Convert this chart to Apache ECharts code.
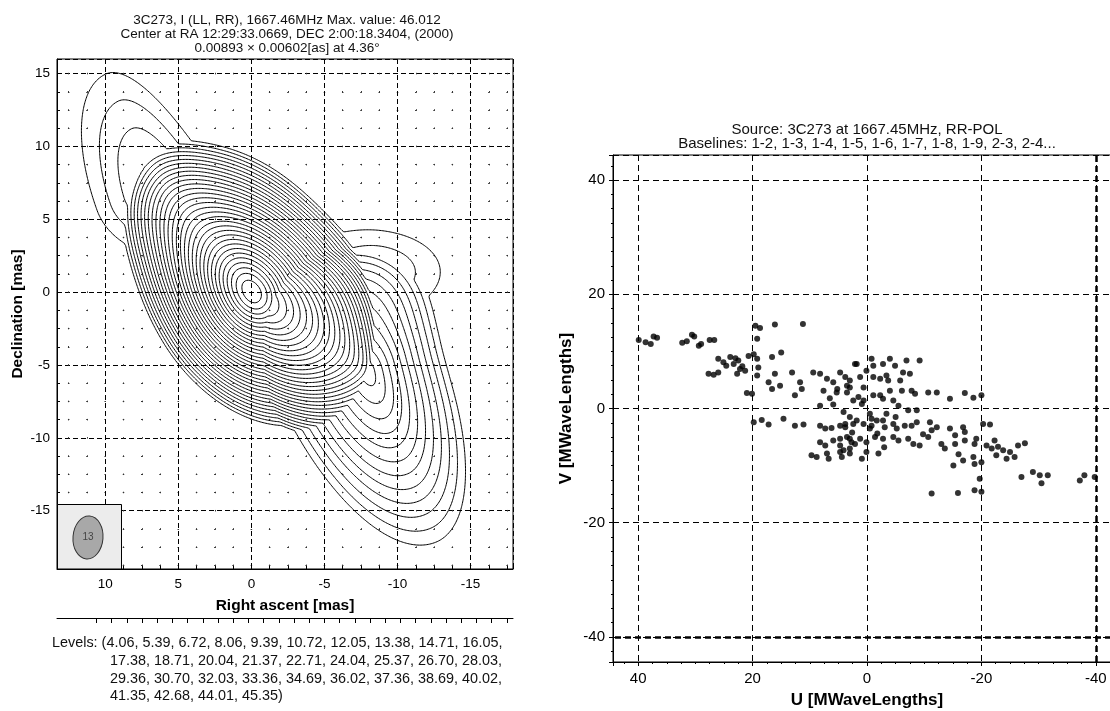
<!DOCTYPE html>
<html><head><meta charset="utf-8">
<script src="https://cdn.jsdelivr.net/npm/echarts@6/dist/echarts.min.js"></script>
<style>html,body{margin:0;padding:0;background:#fff}#c{width:1110px;height:711px}</style>
</head><body><div id="c"></div>
<script>
const FONT = 'Liberation Sans, Arial, sans-serif';

// ---------- Left panel: CLEAN map contours ----------
const levels = [4.06, 5.39, 6.72, 8.06, 9.39, 10.72, 12.05, 13.38, 14.71, 16.05,
  17.38, 18.71, 20.04, 21.37, 22.71, 24.04, 25.37, 26.70, 28.03,
  29.36, 30.70, 32.03, 33.36, 34.69, 36.02, 37.36, 38.69, 40.02,
  41.35, 42.68, 44.01, 45.35];
const levelLineBreaks = [10, 9, 9, 4];
const raRange = [-17.9, 13.3];
const decRange = [-19, 16];
// brightness components estimated from the contour shapes (mas, flux units)
// shape: 0 = soft cone, 1 = gaussian; scales: forward / backward along the axis, minor (+ / - side)
const compShape    = [0,     0,    1,    1,     1];
const compRA       = [0.0,  -8.0,  6.5,  -9.0,  0.5];
const compDec      = [0.0,  -5.5,  7.5,   1.5,  0.0];
const compAmp      = [42.5,  17,   6.5,   5.5,  3.5];
const compFwd      = [10,    8,    7.5,   4.0,  9];
const compBack     = [9,     14,   3,     4.5,  12];
const compMinorPos = [6.6,   5.7,  2.5,   2.8,  5.5];
const compMinorNeg = [6.4,   6.3,  3.5,   2.8,  5.5];
const compAngle    = [58,    68,   65,    0,    55];
const compSoft     = [0.15,  0.1,  0,     0,    0];

const leftTitle = ['3C273, I (LL, RR), 1667.46MHz Max. value: 46.012',
  'Center at RA 12:29:33.0669, DEC 2:00:18.3404, (2000)',
  '0.00893 \u00d7 0.00602[as] at 4.36\u00b0'];
const beamLabel = '13';
const rulerRange = [0, 30];
const rulerTicks = [2.6, 3.6, 4.6, 5.6, 6.6, 7.6, 8.6, 9.6, 10.6, 11.6, 12.6, 13.6, 14.6, 15.6, 16.6,
  17.6, 18.6, 19.6, 20.6, 21.6, 22.6, 23.6, 24.6, 25.6, 26.6, 27.6, 28.6, 29.6];

// ---------- Right panel: UV coverage ----------
const uValues = [39.9,38.7,37.8,37.3,36.7, 32.3,31.5,30.6,30.2,29.4,29.0,27.5,26.7,
 19.5,18.7,19.2,16.1,11.2,
 26.0,25.1,23.9,23.3,22.5,22.2,21.3,22.7,27.7,26.8,26.0,20.7,19.8,19.2,16.6,15.0,19.0,19.2,17.2,16.1,15.2,16.6,21.0,20.1,13.1,11.7,11.4,12.6,9.4,8.2,7.0,5.9,4.7,7.6,5.3,3.0,2.4,1.8,8.2,5.9,
 19.8,18.4,17.2,14.6,12.6,11.1,8.2,7.3,6.2,4.7,8.2,7.3,5.9,4.7,3.0,2.1,9.7,8.8,7.0,6.7,4.7,4.4,3.0,3.0,3.8,
 3.8,2.1,3.0,1.2,0.6,3.5,3.5,1.5,0.9,0.6,-0.8,-1.1,0.1,-2.8,-4.0,-4.9,-6.3,-6.9,-7.5,-9.2,-1.1,-2.3,-3.4,-3.7,-5.8,-4.0,-6.1,-7.8,-8.4,-1.1,-2.3,-2.8,-4.6,-5.5,-10.7,-12.2,-14.5,-17.1,-18.6,-20.0,
 4.1,1.8,-0.5,-0.8,-1.7,-2.8,-3.4,-7.2,-8.7,3.8,2.4,0.6,-0.8,-0.5,-3.1,-4.6,-5.2,-6.6,-7.8,-8.7,-11.0,-12.2,-11.3,-14.5,-15.4,-16.8,-17.1,-20.3,-21.5,
 4.7,3.5,2.7,1.2,0.1,-1.4,-2.8,-4.6,-5.5,-7.2,-8.1,-9.2,-10.7,-13.0,-15.4,-17.1,-18.8,-19.1,-20.9,-22.3,-21.8,-22.9,-23.8,-25.0,-26.4,-27.6,-25.8,-24.4,-22.6,4.1,3.0,0.9,0.1,-2.0,
 -15.1,-16.8,-18.6,-18.8,-20.0,-19.7,-27.0,-29.0,-30.2,-30.5,-31.6,-37.2,-38.0,-39.8,-11.3,-15.9,-18.8,-20.0,
 24.6,23.0,21.8,5.2,6.5,2.6,-1.8,-3.0,-5.0,-9.8,-13.6,-16.0];
const vValues = [12.0,11.6,11.3,12.6,12.4, 11.5,11.8,12.9,12.6,11.0,11.3,12.0,12.0,
 14.5,14.1,12.2,14.7,14.8,
 8.7,8.1,9.0,7.8,8.4,6.9,6.6,6.1,6.1,5.9,6.3,9.2,9.5,8.7,9.0,9.8,7.2,5.8,4.6,6.1,4.0,3.4,2.7,2.6,6.3,4.6,3.4,2.3,6.3,6.1,5.2,4.6,6.3,3.1,2.8,3.7,1.4,7.8,0.5,0.7,
 -2.4,-2.0,-2.8,-1.8,-3.0,-2.8,-3.0,-3.5,-3.4,-3.0,-5.9,-6.5,-5.6,-6.5,-5.3,-6.2,-8.2,-8.5,-7.9,-8.8,-7.6,-8.5,-7.9,-1.5,-2.7,
 5.5,7.8,4.9,5.5,3.7,4.0,2.8,2.0,0.8,1.4,8.7,7.5,6.6,7.8,8.7,7.5,6.3,8.4,6.1,8.4,5.5,5.2,5.8,4.9,4.9,3.1,3.1,3.1,2.6,2.3,2.3,1.7,1.4,0.5,2.8,2.8,1.7,2.7,1.9,2.3,
 -0.6,-2.1,-0.9,-1.8,-2.1,-2.1,-0.9,-0.3,-0.3,-3.3,-2.7,-2.7,-3.0,-3.5,-3.3,-2.7,-3.5,-3.0,-3.0,-2.4,-2.4,-3.3,-3.8,-3.5,-4.7,-3.3,-4.1,-2.7,-2.8,
 -5.3,-5.0,-5.9,-5.3,-5.9,-5.0,-5.3,-5.0,-5.6,-5.3,-6.2,-6.5,-5.0,-6.2,-6.2,-5.6,-6.2,-5.3,-6.5,-5.6,-7.0,-6.7,-7.3,-7.6,-6.5,-6.1,-8.5,-8.8,-8.2,-7.3,-7.0,-8.8,-7.6,-7.9,
 -10.0,-9.1,-8.5,-9.7,-9.4,-12.3,-12.0,-11.1,-11.7,-13.1,-11.7,-12.6,-11.7,-12.0,-14.9,-14.8,-14.3,-14.6,
 7.5,8.8,7.4,3.4,1.8,-4.2,-4.4,-6.8,-1.5,-4.5,-7.0,-8.0];
const uvRange = [-44.4, 44.4];
const boldGridValue = -40;
const rightTitle = ['Source: 3C273 at 1667.45MHz, RR-POL',
  'Baselines: 1-2, 1-3, 1-4, 1-5, 1-6, 1-7, 1-8, 1-9, 2-3, 2-4...'];

// ---------- contouring (marching squares on the model map) ----------
function brightness(x, y) {
  let s = 0;
  for (let k = 0; k < compRA.length; k++) {
    const a = compAngle[k] * Math.PI / 180;
    const dx = x - compRA[k], dy = y - compDec[k];
    const p = dx * Math.cos(a) + dy * Math.sin(a);
    const q = -dx * Math.sin(a) + dy * Math.cos(a);
    const sp = p >= 0 ? compFwd[k] : compBack[k];
    const sq = q >= 0 ? compMinorPos[k] : compMinorNeg[k];
    const r2 = (p / sp) * (p / sp) + (q / sq) * (q / sq);
    let f;
    if (compShape[k] === 0) { const c = compSoft[k]; f = Math.max(0, 1 - (Math.sqrt(r2 + c * c) - c)); }
    else f = Math.exp(-0.5 * r2);
    s += compAmp[k] * f;
  }
  return s;
}
const STEP = 0.1;
const gx0 = raRange[0] - 0.5, gy0 = decRange[0] - 0.5;
const NX = Math.ceil((raRange[1] - raRange[0] + 1) / STEP), NY = Math.ceil((decRange[1] - decRange[0] + 1) / STEP);
const grid = new Float64Array((NX + 1) * (NY + 1));
for (let j = 0; j <= NY; j++) for (let i = 0; i <= NX; i++) grid[j * (NX + 1) + i] = brightness(gx0 + i * STEP, gy0 + j * STEP);

function contourLines(L) {
  const pts = new Map();
  const W = NX + 1;
  function hEdge(i, j) { const id = (j * W + i) * 2; if (!pts.has(id)) { const v1 = grid[j * W + i], v2 = grid[j * W + i + 1]; const t = (L - v1) / (v2 - v1); pts.set(id, [gx0 + (i + t) * STEP, gy0 + j * STEP]); } return id; }
  function vEdge(i, j) { const id = (j * W + i) * 2 + 1; if (!pts.has(id)) { const v1 = grid[j * W + i], v2 = grid[(j + 1) * W + i]; const t = (L - v1) / (v2 - v1); pts.set(id, [gx0 + i * STEP, gy0 + (j + t) * STEP]); } return id; }
  const segs = [];
  for (let j = 0; j < NY; j++) for (let i = 0; i < NX; i++) {
    const a = grid[j * W + i], b = grid[j * W + i + 1], c = grid[(j + 1) * W + i + 1], d = grid[(j + 1) * W + i];
    const ia = a >= L, ib = b >= L, ic = c >= L, id = d >= L;
    if (ia === ib && ib === ic && ic === id) continue;
    const e = [];
    if (ia !== ib) e.push(hEdge(i, j));
    if (ib !== ic) e.push(vEdge(i + 1, j));
    if (id !== ic) e.push(hEdge(i, j + 1));
    if (ia !== id) e.push(vEdge(i, j));
    if (e.length === 2) segs.push([e[0], e[1]]);
    else if (e.length === 4) {
      const ctr = (a + b + c + d) / 4;
      if ((ctr >= L) === ia) { segs.push([e[0], e[1]]); segs.push([e[2], e[3]]); }
      else { segs.push([e[0], e[3]]); segs.push([e[2], e[1]]); }
    }
  }
  const adj = new Map();
  segs.forEach((s, k) => { for (const id of s) { if (!adj.has(id)) adj.set(id, []); adj.get(id).push(k); } });
  const used = new Uint8Array(segs.length);
  const out = [];
  function walk(start) {
    const res = []; let cur = start;
    for (;;) {
      const cands = adj.get(cur); let nk = -1;
      for (const c of cands) if (!used[c]) { nk = c; break; }
      if (nk < 0) break;
      used[nk] = 1; const s = segs[nk]; const nxt = s[0] === cur ? s[1] : s[0];
      res.push(nxt); cur = nxt;
    }
    return res;
  }
  for (let k = 0; k < segs.length; k++) {
    if (used[k]) continue; used[k] = 1;
    const fwd = walk(segs[k][1]);
    const back = walk(segs[k][0]).reverse();
    const chain = back.concat([segs[k][0], segs[k][1]], fwd);
    out.push(chain.map(id => pts.get(id)));
  }
  return out;
}
const contourData = [];
levels.forEach(L => contourLines(L).forEach(line => contourData.push({ coords: line })));

// ---------- styling helpers ----------
const leftPxX = 456 / (raRange[1] - raRange[0]);
const leftPxY = 510 / (decRange[1] - decRange[0]);
const minorStep = 1.25;
const perY = minorStep * leftPxY, perX = minorStep * leftPxX;
const d0v = (decRange[1] - Math.floor(decRange[1] / minorStep - 1e-9) * minorStep) * leftPxY;
const d0h = (raRange[1] - Math.floor(raRange[1] / minorStep - 1e-9) * minorStep) * leftPxX;
const offV = ((0.75 - d0v) % perY + perY) % perY;
const offH = ((0.75 - d0h) % perX + perX) % perX;

const leftTick = { fontFamily: FONT, fontSize: 13.5, color: '#000' };
const rightTick = { fontFamily: FONT, fontSize: 15, color: '#000' };
const leftName = { fontFamily: FONT, fontSize: 15.5, fontWeight: 'bold', color: '#000' };
const rightName = { fontFamily: FONT, fontSize: 17, fontWeight: 'bold', color: '#000' };
const blackLine = { color: '#000', width: 1 };

function levelsText() {
  const strs = levels.map(v => v.toFixed(2));
  const lines = []; let p = 0;
  levelLineBreaks.forEach(n => { lines.push(strs.slice(p, p + n).join(', ')); p += n; });
  return lines.map((l, i) => l + (i < lines.length - 1 ? ',' : ')'));
}
const lvLines = levelsText();

const chart = echarts.init(document.getElementById('c'), null, { renderer: 'canvas' });
chart.setOption({
  animation: false,
  backgroundColor: '#fff',
  title: [
    { text: leftTitle.join('\n'), left: 287, top: 13, padding: 0, textAlign: 'center',
      textStyle: { fontFamily: FONT, fontSize: 13.5, fontWeight: 'normal', lineHeight: 14.2, color: '#111' } },
    { text: rightTitle.join('\n'), left: 867, top: 123, padding: 0, textAlign: 'center',
      textStyle: { fontFamily: FONT, fontSize: 15, fontWeight: 'normal', lineHeight: 14, color: '#111' } },
    { text: 'Levels: (' + lvLines[0], left: 52, top: 634, padding: 0,
      textStyle: { fontFamily: FONT, fontSize: 14.4, fontWeight: 'normal', lineHeight: 17.7, color: '#111' } },
    { text: lvLines.slice(1).join('\n'), left: 110, top: 652, padding: 0,
      textStyle: { fontFamily: FONT, fontSize: 14.4, fontWeight: 'normal', lineHeight: 17.7, color: '#111' } }
  ],
  grid: [
    { left: 57, top: 59, width: 456, height: 510, show: true, borderColor: '#000', borderWidth: 1, backgroundColor: '#fff', outerBoundsMode: 'none', containLabel: false },
    { left: 613, top: 155, width: 508, height: 507, show: true, borderColor: '#000', borderWidth: 1, backgroundColor: '#fff', outerBoundsMode: 'none', containLabel: false },
    { left: 57, top: 617, width: 456, height: 1, show: false, outerBoundsMode: 'none' }
  ],
  xAxis: [
    { gridIndex: 0, type: 'value', inverse: true, min: raRange[0], max: raRange[1], splitNumber: 6,
      name: 'Right ascent [mas]', nameLocation: 'middle', nameGap: 29, nameTextStyle: leftName,
      axisLine: { show: true, onZero: false, lineStyle: blackLine },
      axisTick: { show: true, inside: true, length: 4, lineStyle: blackLine },
      minorTick: { show: true, splitNumber: 4, length: 3, lineStyle: blackLine },
      axisLabel: Object.assign({ margin: 8, showMinLabel: false, showMaxLabel: false }, leftTick),
      splitLine: { show: true, lineStyle: { color: '#000', width: 1, type: [5, 3] } },
      minorSplitLine: { show: true, lineStyle: { color: '#333', width: 1, type: [1.5, perY - 1.5], dashOffset: offV } } },
    { gridIndex: 1, type: 'value', inverse: true, min: uvRange[0], max: uvRange[1], splitNumber: 4,
      name: 'U [MWaveLengths]', nameLocation: 'middle', nameGap: 30, nameTextStyle: rightName,
      axisLine: { show: true, onZero: false, lineStyle: blackLine },
      axisTick: { show: true, inside: false, length: 4, lineStyle: blackLine },
      minorTick: { show: true, splitNumber: 8, length: 2, lineStyle: blackLine },
      axisLabel: Object.assign({ margin: 9, showMinLabel: false, showMaxLabel: false }, rightTick),
      splitLine: { show: true, lineStyle: { color: '#000', width: 1, type: [6, 4] } } },
    { gridIndex: 2, type: 'value', min: rulerRange[0], max: rulerRange[1], position: 'bottom',
      axisLine: { show: true, onZero: false, lineStyle: blackLine },
      axisTick: { show: true, length: 5, lineStyle: blackLine, customValues: rulerTicks },
      axisLabel: { show: false }, splitLine: { show: false } }
  ],
  yAxis: [
    { gridIndex: 0, type: 'value', min: decRange[0], max: decRange[1], splitNumber: 7,
      name: 'Declination [mas]', nameLocation: 'middle', nameGap: 31, nameTextStyle: leftName,
      axisLine: { show: true, onZero: false, lineStyle: blackLine },
      axisTick: { show: true, inside: true, length: 4, lineStyle: blackLine },
      minorTick: { show: true, splitNumber: 4, length: 3, lineStyle: blackLine },
      axisLabel: Object.assign({ margin: 7, showMinLabel: false, showMaxLabel: false }, leftTick),
      splitLine: { show: true, lineStyle: { color: '#000', width: 1, type: [5, 3] } },
      minorSplitLine: { show: true, lineStyle: { color: '#333', width: 1, type: [1.5, perX - 1.5], dashOffset: offH } } },
    { gridIndex: 1, type: 'value', min: uvRange[0], max: uvRange[1], splitNumber: 4,
      name: 'V [MWaveLengths]', nameLocation: 'middle', nameGap: 38, nameTextStyle: rightName,
      axisLine: { show: true, onZero: false, lineStyle: blackLine },
      axisTick: { show: true, inside: false, length: 4, lineStyle: blackLine },
      minorTick: { show: true, splitNumber: 8, length: 2, lineStyle: blackLine },
      axisLabel: Object.assign({ margin: 8, showMinLabel: false, showMaxLabel: false }, rightTick),
      splitLine: { show: true, lineStyle: { color: '#000', width: 1, type: [6, 4] } } },
    { gridIndex: 2, type: 'value', show: false, min: 0, max: 1 }
  ],
  series: [
    { type: 'lines', name: 'contours', coordinateSystem: 'cartesian2d', xAxisIndex: 0, yAxisIndex: 0,
      polyline: true, silent: true, large: false, data: contourData, z: 3,
      lineStyle: { color: '#000', width: 1, opacity: 1 } },
    { type: 'scatter', name: 'uv', xAxisIndex: 1, yAxisIndex: 1, symbol: 'circle', symbolSize: 6,
      itemStyle: { color: '#000' }, silent: true, z: 3,
      data: uValues.map((u, i) => [u, vValues[i]]),
      markLine: { silent: true, symbol: ['none', 'none'], animation: false, label: { show: false },
        lineStyle: { color: '#000', width: 2.5, type: [6, 4] },
        data: [{ xAxis: boldGridValue }, { yAxis: boldGridValue }] } }
  ],
  graphic: [
    { type: 'rect', z: 50, shape: { x: 57.5, y: 504.5, width: 64, height: 64.5 },
      style: { fill: '#ececec', stroke: '#000', lineWidth: 1 } },
    { type: 'ellipse', z: 51, shape: { cx: 88, cy: 537.5, rx: 15, ry: 21.5 }, rotation: -4.36 * Math.PI / 180, originX: 88, originY: 537.5,
      style: { fill: '#a8a8a8', stroke: '#333', lineWidth: 1 } },
    { type: 'text', z: 52, x: 88, y: 537.5,
      style: { text: beamLabel, fontFamily: FONT, fontSize: 10, fill: '#444', textAlign: 'center', textVerticalAlign: 'middle' } }
  ]
});
</script>
</body></html>
